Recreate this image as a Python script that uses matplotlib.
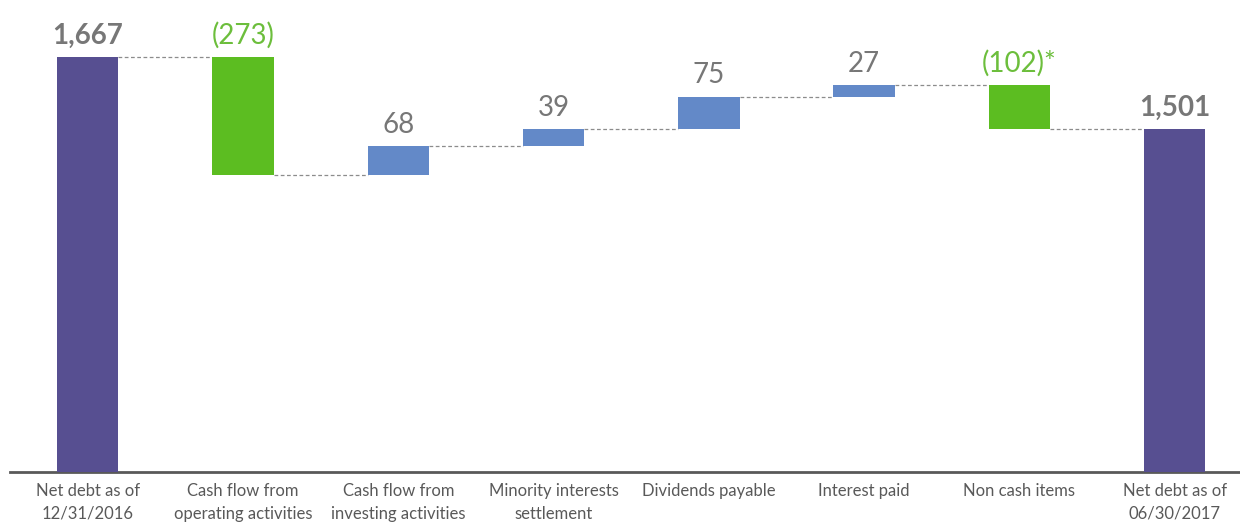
import matplotlib.pyplot as plt
import numpy as np

categories = ['Net debt as of\n12/31/2016', 'Cash flow from\noperating activities',
              'Cash flow from\ninvesting activities', 'Minority interests\nsettlement',
              'Dividends payable', 'Interest paid', 'Non cash items',
              'Net debt as of\n06/30/2017']
changes = [1667, -273, 68, 39, 75, 27, -102, 1501]
labels = ['1,667', '(273)', '68', '39', '75', '27', '(102)*', '1,501']
kinds = ['total', 'neg', 'pos', 'pos', 'pos', 'pos', 'neg', 'total']

purple = '#574F91'
green = '#5CBD21'
blue = '#6389C8'
grey_txt = '#777777'
green_txt = '#6CBE3C'

plt.rcParams['font.family'] = ['Lato', 'DejaVu Sans']

fig = plt.figure(figsize=(12.4, 5.25), dpi=100)
ax = fig.add_axes([10 / 1240, 53 / 525, 1230 / 1240, 472 / 525])

ymin = 707
x = np.arange(len(categories))
w = 0.395

bottoms = []
tops = []
level = 0
for i, (c, k) in enumerate(zip(changes, kinds)):
    if k == 'total':
        b, t = ymin - 50, c
        level = c
    else:
        new = level + c
        b, t = min(level, new), max(level, new)
        level = new
    bottoms.append(b)
    tops.append(t)

colors = [purple if k == 'total' else (green if k == 'neg' else blue) for k in kinds]
ax.bar(x, np.array(tops) - np.array(bottoms), bottom=bottoms, width=w, color=colors, zorder=3)

# connectors
level = 0
for i in range(len(changes) - 1):
    if kinds[i] == 'total':
        level = changes[i]
    else:
        level = level + changes[i]
    ax.plot([x[i] + w / 2, x[i + 1] - w / 2], [level, level], ls=(0, (3, 2)),
            color='#8C8C8C', lw=0.9, zorder=2)

for i in range(len(changes)):
    col = green_txt if kinds[i] == 'neg' else grey_txt
    wt = 'bold' if kinds[i] == 'total' else 'normal'
    ax.annotate(labels[i], (x[i], tops[i]), xytext=(0, 6), textcoords='offset points',
                ha='center', va='bottom', fontsize=20, color=col, fontweight=wt)

ax.set_xlim(-0.5, 7.42)
ax.set_ylim(ymin, 1800)
ax.set_yticks([])
ax.set_xticks(x)
ax.set_xticklabels(categories, fontsize=12, color='#595959', linespacing=1.5)
ax.tick_params(axis='x', length=0, pad=8)
for s in ['top', 'right', 'left']:
    ax.spines[s].set_visible(False)
ax.spines['bottom'].set_color('#595959')
ax.spines['bottom'].set_linewidth(2)

fig.savefig('out.png', dpi=100)
